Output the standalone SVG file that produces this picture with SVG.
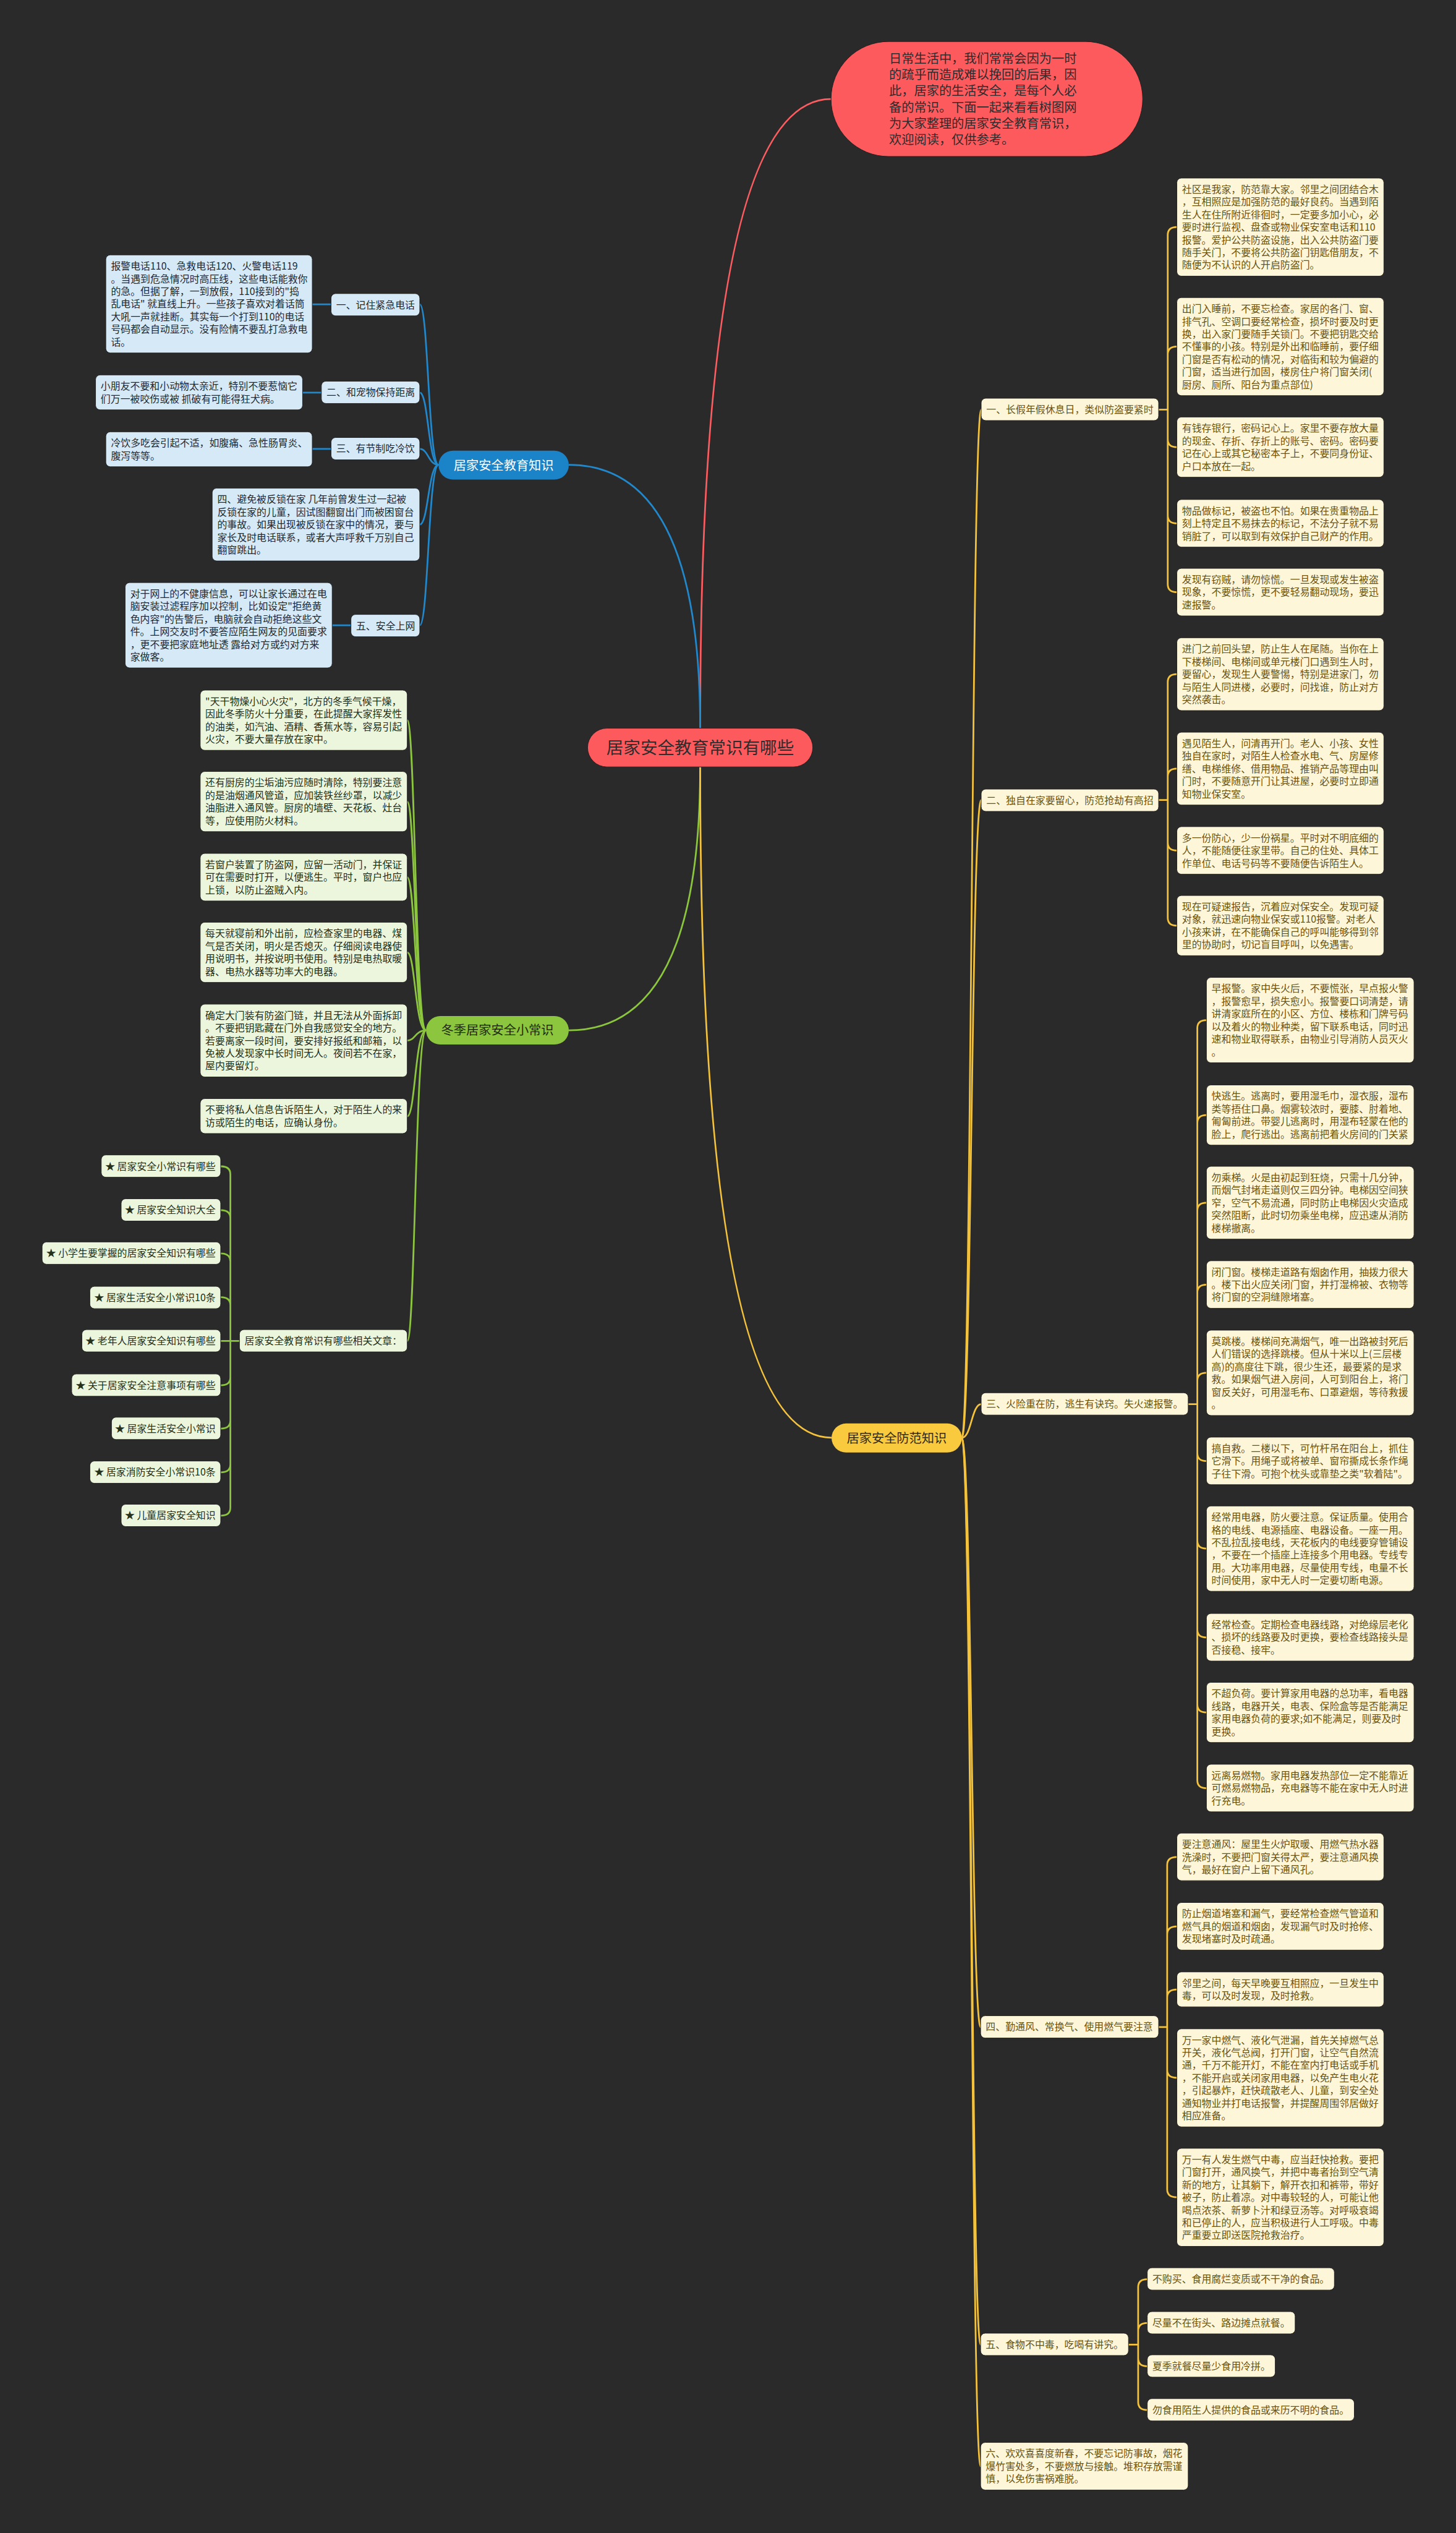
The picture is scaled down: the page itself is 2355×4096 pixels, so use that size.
<svg xmlns="http://www.w3.org/2000/svg" width="2355" height="4096" viewBox="0 0 2355 4096">
<style>
text{font-family:"Noto Sans CJK SC","Noto Sans",sans-serif;}
.bx{font-size:17.3px;}
.cy{fill:#fdf6d9;stroke:#1c1c1c;stroke-width:1}
.ty{fill:#6a5410}
.cb{fill:#d5e9f7;stroke:#1c1c1c;stroke-width:1}
.tb{fill:#1f2a33}
.cg{fill:#ebf6dc;stroke:#1c1c1c;stroke-width:1}
.tg{fill:#25301a}
.ly{fill:none;stroke:#f5c33b;stroke-width:3}
.lb{fill:none;stroke:#2288cc;stroke-width:3}
.lg{fill:none;stroke:#8cc63e;stroke-width:3}
.lr{fill:none;stroke:#fd5c60;stroke-width:3}
</style>
<rect width="2355" height="4096" fill="#2a2a2a"/>
<g transform="scale(0.92)">
<g id="connectors">
<path class="lr" d="M1231,1280 Q1231,174 1461,174"/>
<path class="lb" d="M1231,1280 Q1231,817 1000,817"/>
<path class="lg" d="M1231,1348 Q1231,1811 1000,1811"/>
<path class="ly" d="M1231,1348 Q1231,2527 1462,2527"/>
<!-- blue -->
<path class="lb" d="M771,817 C753,817 753,535 738,535"/>
<path class="lb" d="M771,817 C753,817 753,690 738,690"/>
<path class="lb" d="M771,817 C753,817 753,789 738,789"/>
<path class="lb" d="M771,817 C753,817 753,922 738,922"/>
<path class="lb" d="M771,817 C753,817 753,1099 738,1099"/>
<path class="lb" d="M549,535 H582 M532,690 H565 M549,789 H582 M584,1099 H617"/>
<!-- green -->
<path class="lg" d="M749,1811 C730,1811 730,1266 716,1266"/>
<path class="lg" d="M749,1811 C730,1811 730,1409 716,1409"/>
<path class="lg" d="M749,1811 C730,1811 730,1542 716,1542"/>
<path class="lg" d="M749,1811 C730,1811 730,1674 716,1674"/>
<path class="lg" d="M749,1811 C730,1811 730,1829 716,1829"/>
<path class="lg" d="M749,1811 C730,1811 730,1962 716,1962"/>
<path class="lg" d="M749,1811 C730,1811 730,2357 716,2357"/>
<path class="lg" d="M421,2357 H388 M405,2064 V2650 M405,2064 Q405,2050 388,2050 M405,2141 Q405,2127 388,2127 M405,2217 Q405,2203 388,2203 M405,2294 Q405,2280 388,2280 M405,2421 Q405,2435 388,2435 M405,2497 Q405,2511 388,2511 M405,2574 Q405,2588 388,2588 M405,2650 Q405,2664 388,2664"/>
<!-- yellow trunk -->
<path class="ly" d="M1691,2527 C1708,2527 1708,720 1725,720"/>
<path class="ly" d="M1691,2527 C1708,2527 1708,1406 1725,1406"/>
<path class="ly" d="M1691,2527 C1708,2527 1708,2468 1725,2468"/>
<path class="ly" d="M1691,2527 C1708,2527 1708,3563 1724,3563"/>
<path class="ly" d="M1691,2527 C1708,2527 1708,4121 1724,4121"/>
<path class="ly" d="M1691,2527 C1708,2527 1708,4335 1724,4335"/>
<!-- section brackets -->
<path class="ly" d="M2037,720 H2053 M2053,413 V1027 M2053,413 Q2053,399 2069,399 M2053,623 Q2053,609 2069,609 M2053,772 Q2053,786 2069,786 M2053,906 Q2053,920 2069,920 M2053,1027 Q2053,1041 2069,1041"/>
<path class="ly" d="M2037,1406 H2053 M2053,1199 V1613 M2053,1199 Q2053,1185 2069,1185 M2053,1365 Q2053,1351 2069,1351 M2053,1481 Q2053,1495 2069,1495 M2053,1613 Q2053,1627 2069,1627"/>
<path class="ly" d="M2089,2468 H2105 M2105,1807 V3129 M2105,1807 Q2105,1793 2121,1793 M2105,1974 Q2105,1960 2121,1960 M2105,2128 Q2105,2114 2121,2114 M2105,2272 Q2105,2258 2121,2258 M2105,2427 Q2105,2413 2121,2413 M2105,2554 Q2105,2568 2121,2568 M2105,2708 Q2105,2722 2121,2722 M2105,2864 Q2105,2878 2121,2878 M2105,2996 Q2105,3010 2121,3010 M2105,3129 Q2105,3143 2121,3143"/>
<path class="ly" d="M2037,3563 H2052 M2052,3278 V3848 M2052,3278 Q2052,3264 2069,3264 M2052,3400 Q2052,3386 2069,3386 M2052,3511 Q2052,3497 2069,3497 M2052,3638 Q2052,3652 2069,3652 M2052,3848 Q2052,3862 2069,3862"/>
<path class="ly" d="M1984,4121 H2001 M2001,4020 V4222 M2001,4020 Q2001,4006 2017,4006 M2001,4097 Q2001,4083 2017,4083 M2001,4145 Q2001,4159 2017,4159 M2001,4222 Q2001,4236 2017,4236"/>
</g>

<g id="root">
<rect x="1033" y="1280" width="396" height="68" rx="34" fill="#fd5a5e" stroke="#1c1c1c" stroke-width="1"/>
<text x="1231" y="1325" text-anchor="middle" font-size="30" fill="#2d2d2d">居家安全教育常识有哪些</text>
</g>
<g id="intro">
<rect x="1461" y="73" width="548" height="202" rx="101" fill="#fd5a5e" stroke="#1c1c1c" stroke-width="1"/>
<text x="1563" y="111" font-size="22" fill="#2d2d2d"><tspan x="1563">日常生活中，我们常常会因为一时</tspan><tspan x="1563" dy="28.4">的疏乎而造成难以挽回的后果，因</tspan><tspan x="1563" dy="28.4">此，居家的生活安全，是每个人必</tspan><tspan x="1563" dy="28.4">备的常识。下面一起来看看树图网</tspan><tspan x="1563" dy="28.4">为大家整理的居家安全教育常识，</tspan><tspan x="1563" dy="28.4">欢迎阅读，仅供参考。</tspan></text>
</g>

<!-- blue branch -->
<g id="blue-main">
<rect x="771" y="792" width="229" height="51" rx="25.5" fill="#1b83c7"/>
<text x="885.5" y="826" text-anchor="middle" font-size="22" fill="#ffffff">居家安全教育知识</text>
</g>
<g id="b1"><rect class="cb" x="582" y="516" width="156" height="39.2" rx="8"/><text class="bx tb" x="591" y="542">一、记住紧急电话</text></g>
<g id="b1d"><rect class="cb" x="186" y="448" width="363" height="172.4" rx="8"/><text class="bx tb" x="195" y="474"><tspan x="195">报警电话110、急救电话120、火警电话119</tspan><tspan x="195" dy="22.2">。当遇到危急情况时高压线，这些电话能救你</tspan><tspan x="195" dy="22.2">的急。但据了解，一到放假，110接到的"捣</tspan><tspan x="195" dy="22.2">乱电话" 就直线上升。一些孩子喜欢对着话筒</tspan><tspan x="195" dy="22.2">大吼一声就挂断。其实每一个打到110的电话</tspan><tspan x="195" dy="22.2">号码都会自动显示。没有险情不要乱打急救电</tspan><tspan x="195" dy="22.2">话。</tspan></text></g>
<g id="b2"><rect class="cb" x="565" y="670" width="173" height="39.2" rx="8"/><text class="bx tb" x="574" y="696">二、和宠物保持距离</text></g>
<g id="b2d"><rect class="cb" x="168" y="659" width="364" height="61.4" rx="8"/><text class="bx tb" x="177" y="685"><tspan x="177">小朋友不要和小动物太亲近，特别不要惹恼它</tspan><tspan x="177" dy="22.2">们万一被咬伤或被 抓破有可能得狂犬病。</tspan></text></g>
<g id="b3"><rect class="cb" x="582" y="769" width="156" height="39.2" rx="8"/><text class="bx tb" x="591" y="795">三、有节制吃冷饮</text></g>
<g id="b3d"><rect class="cb" x="186" y="759" width="363" height="61.4" rx="8"/><text class="bx tb" x="195" y="785"><tspan x="195">冷饮多吃会引起不适，如腹痛、急性肠胃炎、</tspan><tspan x="195" dy="22.2">腹泻等等。</tspan></text></g>
<g id="b4"><rect class="cb" x="373" y="858" width="365" height="128" rx="8"/><text class="bx tb" x="382" y="884"><tspan x="382">四、避免被反锁在家 几年前曾发生过一起被</tspan><tspan x="382" dy="22.2">反锁在家的儿童，因试图翻窗出门而被困窗台</tspan><tspan x="382" dy="22.2">的事故。如果出现被反锁在家中的情况，要与</tspan><tspan x="382" dy="22.2">家长及时电话联系，或者大声呼救千万别自己</tspan><tspan x="382" dy="22.2">翻窗跳出。</tspan></text></g>
<g id="b5"><rect class="cb" x="617" y="1080" width="121" height="39.2" rx="8"/><text class="bx tb" x="626" y="1106">五、安全上网</text></g>
<g id="b5d"><rect class="cb" x="220" y="1024" width="364" height="150" rx="8"/><text class="bx tb" x="229" y="1050"><tspan x="229">对于网上的不健康信息，可以让家长通过在电</tspan><tspan x="229" dy="22.2">脑安装过滤程序加以控制，比如设定"拒绝黄</tspan><tspan x="229" dy="22.2">色内容"的告警后，电脑就会自动拒绝这些文</tspan><tspan x="229" dy="22.2">件。上网交友时不要答应陌生网友的见面要求</tspan><tspan x="229" dy="22.2">，更不要把家庭地址透 露给对方或约对方来</tspan><tspan x="229" dy="22.2">家做客。</tspan></text></g>

<!-- green branch -->
<g id="green-main">
<rect x="749" y="1786" width="251" height="50" rx="25" fill="#8cc63e"/>
<text x="874.5" y="1819" text-anchor="middle" font-size="22" fill="#1f2a10">冬季居家安全小常识</text>
</g>
<g id="g1"><rect class="cg" x="352" y="1213" width="364" height="105.8" rx="8"/><text class="bx tg" x="361" y="1239"><tspan x="361">"天干物燥小心火灾"，北方的冬季气候干燥，</tspan><tspan x="361" dy="22.2">因此冬季防火十分重要，在此提醒大家挥发性</tspan><tspan x="361" dy="22.2">的油类，如汽油、酒精、香蕉水等，容易引起</tspan><tspan x="361" dy="22.2">火灾，不要大量存放在家中。</tspan></text></g>
<g id="g2"><rect class="cg" x="352" y="1356" width="364" height="105.8" rx="8"/><text class="bx tg" x="361" y="1382"><tspan x="361">还有厨房的尘垢油污应随时清除，特别要注意</tspan><tspan x="361" dy="22.2">的是油烟通风管道，应加装铁丝纱罩，以减少</tspan><tspan x="361" dy="22.2">油脂进入通风管。厨房的墙壁、天花板、灶台</tspan><tspan x="361" dy="22.2">等，应使用防火材料。</tspan></text></g>
<g id="g3"><rect class="cg" x="352" y="1500" width="364" height="83.6" rx="8"/><text class="bx tg" x="361" y="1526"><tspan x="361">若窗户装置了防盗网，应留一活动门，并保证</tspan><tspan x="361" dy="22.2">可在需要时打开，以便逃生。平时，窗户也应</tspan><tspan x="361" dy="22.2">上锁，以防止盗贼入内。</tspan></text></g>
<g id="g4"><rect class="cg" x="352" y="1621" width="364" height="105.8" rx="8"/><text class="bx tg" x="361" y="1647"><tspan x="361">每天就寝前和外出前，应检查家里的电器、煤</tspan><tspan x="361" dy="22.2">气是否关闭，明火是否熄灭。仔细阅读电器使</tspan><tspan x="361" dy="22.2">用说明书，并按说明书使用。特别是电热取暖</tspan><tspan x="361" dy="22.2">器、电热水器等功率大的电器。</tspan></text></g>
<g id="g5"><rect class="cg" x="352" y="1765" width="364" height="128" rx="8"/><text class="bx tg" x="361" y="1791"><tspan x="361">确定大门装有防盗门链，并且无法从外面拆卸</tspan><tspan x="361" dy="22.2">。不要把钥匙藏在门外自我感觉安全的地方。</tspan><tspan x="361" dy="22.2">若要离家一段时间，要安排好报纸和邮箱，以</tspan><tspan x="361" dy="22.2">免被人发现家中长时间无人。夜间若不在家，</tspan><tspan x="361" dy="22.2">屋内要留灯。</tspan></text></g>
<g id="g6"><rect class="cg" x="352" y="1931" width="364" height="61.4" rx="8"/><text class="bx tg" x="361" y="1957"><tspan x="361">不要将私人信息告诉陌生人，对于陌生人的来</tspan><tspan x="361" dy="22.2">访或陌生的电话，应确认身份。</tspan></text></g>
<g id="g7"><rect class="cg" x="421" y="2337" width="295" height="39.2" rx="8"/><text class="bx tg" x="430" y="2363">居家安全教育常识有哪些相关文章：</text></g>
<g id="r1"><rect class="cg" x="178" y="2030" width="210" height="39.2" rx="8"/><text class="bx tg" x="379" y="2056" text-anchor="end">★ 居家安全小常识有哪些</text></g>
<g id="r2"><rect class="cg" x="213" y="2107" width="175" height="39.2" rx="8"/><text class="bx tg" x="379" y="2133" text-anchor="end">★ 居家安全知识大全</text></g>
<g id="r3"><rect class="cg" x="74" y="2183" width="314" height="39.2" rx="8"/><text class="bx tg" x="379" y="2209" text-anchor="end">★ 小学生要掌握的居家安全知识有哪些</text></g>
<g id="r4"><rect class="cg" x="158" y="2261" width="230" height="39.2" rx="8"/><text class="bx tg" x="379" y="2287" text-anchor="end">★ 居家生活安全小常识10条</text></g>
<g id="r5"><rect class="cg" x="144" y="2337" width="244" height="39.2" rx="8"/><text class="bx tg" x="379" y="2363" text-anchor="end">★ 老年人居家安全知识有哪些</text></g>
<g id="r6"><rect class="cg" x="126" y="2415" width="262" height="39.2" rx="8"/><text class="bx tg" x="379" y="2441" text-anchor="end">★ 关于居家安全注意事项有哪些</text></g>
<g id="r7"><rect class="cg" x="196" y="2491" width="192" height="39.2" rx="8"/><text class="bx tg" x="379" y="2517" text-anchor="end">★ 居家生活安全小常识</text></g>
<g id="r8"><rect class="cg" x="158" y="2568" width="230" height="39.2" rx="8"/><text class="bx tg" x="379" y="2594" text-anchor="end">★ 居家消防安全小常识10条</text></g>
<g id="r9"><rect class="cg" x="213" y="2644" width="175" height="39.2" rx="8"/><text class="bx tg" x="379" y="2670" text-anchor="end">★ 儿童居家安全知识</text></g>

<!-- yellow branch -->
<g id="yellow-main">
<rect x="1462" y="2502" width="229" height="51" rx="25.5" fill="#f9c93e"/>
<text x="1576.5" y="2536" text-anchor="middle" font-size="22" fill="#2d2a1a">居家安全防范知识</text>
</g>
<g id="s1"><rect class="cy" x="1725" y="700" width="312" height="39.2" rx="8"/><text class="bx ty" x="1734" y="726">一、长假年假休息日，类似防盗要紧时</text></g>
<g id="s1a"><rect class="cy" x="2069" y="313" width="364" height="172.4" rx="8"/><text class="bx ty" x="2078" y="339"><tspan x="2078">社区是我家，防范靠大家。邻里之间团结合木</tspan><tspan x="2078" dy="22.2">，互相照应是加强防范的最好良药。当遇到陌</tspan><tspan x="2078" dy="22.2">生人在住所附近徘徊时，一定要多加小心，必</tspan><tspan x="2078" dy="22.2">要时进行监视、盘查或物业保安室电话和110</tspan><tspan x="2078" dy="22.2">报警。爱护公共防盗设施，出入公共防盗门要</tspan><tspan x="2078" dy="22.2">随手关门，不要将公共防盗门钥匙借朋友，不</tspan><tspan x="2078" dy="22.2">随便为不认识的人开启防盗门。</tspan></text></g>
<g id="s1b"><rect class="cy" x="2069" y="523" width="364" height="172.4" rx="8"/><text class="bx ty" x="2078" y="549"><tspan x="2078">出门入睡前，不要忘检查。家居的各门、窗、</tspan><tspan x="2078" dy="22.2">排气孔、空调口要经常检查，损坏时要及时更</tspan><tspan x="2078" dy="22.2">换，出入家门要随手关锁门。不要把钥匙交给</tspan><tspan x="2078" dy="22.2">不懂事的小孩。特别是外出和临睡前，要仔细</tspan><tspan x="2078" dy="22.2">门窗是否有松动的情况，对临街和较为偏避的</tspan><tspan x="2078" dy="22.2">门窗，适当进行加固，楼房住户将门窗关闭(</tspan><tspan x="2078" dy="22.2">厨房、厕所、阳台为重点部位)</tspan></text></g>
<g id="s1c"><rect class="cy" x="2069" y="733" width="364" height="105.8" rx="8"/><text class="bx ty" x="2078" y="759"><tspan x="2078">有钱存银行，密码记心上。家里不要存放大量</tspan><tspan x="2078" dy="22.2">的现金、存折、存折上的账号、密码。密码要</tspan><tspan x="2078" dy="22.2">记在心上或其它秘密本子上，不要同身份证、</tspan><tspan x="2078" dy="22.2">户口本放在一起。</tspan></text></g>
<g id="s1d"><rect class="cy" x="2069" y="878" width="364" height="83.6" rx="8"/><text class="bx ty" x="2078" y="904"><tspan x="2078">物品做标记，被盗也不怕。如果在贵重物品上</tspan><tspan x="2078" dy="22.2">刻上特定且不易抹去的标记，不法分子就不易</tspan><tspan x="2078" dy="22.2">销脏了，可以取到有效保护自己财产的作用。</tspan></text></g>
<g id="s1e"><rect class="cy" x="2069" y="999" width="364" height="83.6" rx="8"/><text class="bx ty" x="2078" y="1025"><tspan x="2078">发现有窃贼，请勿惊慌。一旦发现或发生被盗</tspan><tspan x="2078" dy="22.2">现象，不要惊慌，更不要轻易翻动现场，要迅</tspan><tspan x="2078" dy="22.2">速报警。</tspan></text></g>

<g id="s2"><rect class="cy" x="1725" y="1387" width="312" height="39.2" rx="8"/><text class="bx ty" x="1734" y="1413">二、独自在家要留心，防范抢劫有高招</text></g>
<g id="s2a"><rect class="cy" x="2069" y="1121" width="364" height="128" rx="8"/><text class="bx ty" x="2078" y="1147"><tspan x="2078">进门之前回头望，防止生人在尾随。当你在上</tspan><tspan x="2078" dy="22.2">下楼梯间、电梯间或单元楼门口遇到生人时，</tspan><tspan x="2078" dy="22.2">要留心，发现生人要警惕，特别是进家门，勿</tspan><tspan x="2078" dy="22.2">与陌生人同进楼，必要时，问找谁，防止对方</tspan><tspan x="2078" dy="22.2">突然袭击。</tspan></text></g>
<g id="s2b"><rect class="cy" x="2069" y="1287" width="364" height="128" rx="8"/><text class="bx ty" x="2078" y="1313"><tspan x="2078">遇见陌生人，问清再开门。老人、小孩、女性</tspan><tspan x="2078" dy="22.2">独自在家时，对陌生人检查水电、气、房屋修</tspan><tspan x="2078" dy="22.2">缮、电梯维修、借用物品、推销产品等理由叫</tspan><tspan x="2078" dy="22.2">门时，不要随意开门让其进屋，必要时立即通</tspan><tspan x="2078" dy="22.2">知物业保安室。</tspan></text></g>
<g id="s2c"><rect class="cy" x="2069" y="1453" width="364" height="83.6" rx="8"/><text class="bx ty" x="2078" y="1479"><tspan x="2078">多一份防心，少一份祸星。平时对不明底细的</tspan><tspan x="2078" dy="22.2">人，不能随便往家里带。自己的住处、具体工</tspan><tspan x="2078" dy="22.2">作单位、电话号码等不要随便告诉陌生人。</tspan></text></g>
<g id="s2d"><rect class="cy" x="2069" y="1574" width="364" height="105.8" rx="8"/><text class="bx ty" x="2078" y="1600"><tspan x="2078">现在可疑速报告，沉着应对保安全。发现可疑</tspan><tspan x="2078" dy="22.2">对象，就迅速向物业保安或110报警。对老人</tspan><tspan x="2078" dy="22.2">小孩来讲，在不能确保自己的呼叫能够得到邻</tspan><tspan x="2078" dy="22.2">里的协助时，切记盲目呼叫，以免遇害。</tspan></text></g>

<g id="s3"><rect class="cy" x="1725" y="2448" width="364" height="39.2" rx="8"/><text class="bx ty" x="1734" y="2474">三、火险重在防，逃生有诀窍。失火速报警。</text></g>
<g id="s3a"><rect class="cy" x="2121" y="1718" width="365" height="150" rx="8"/><text class="bx ty" x="2130" y="1744"><tspan x="2130">早报警。家中失火后，不要慌张，早点报火警</tspan><tspan x="2130" dy="22.2">，报警愈早，损失愈小。报警要口词清楚，请</tspan><tspan x="2130" dy="22.2">讲清家庭所在的小区、方位、楼栋和门牌号码</tspan><tspan x="2130" dy="22.2">以及着火的物业种类，留下联系电话，同时迅</tspan><tspan x="2130" dy="22.2">速和物业取得联系，由物业引导消防人员灭火</tspan><tspan x="2130" dy="22.2">。</tspan></text></g>
<g id="s3b"><rect class="cy" x="2121" y="1907" width="365" height="105.8" rx="8"/><text class="bx ty" x="2130" y="1933"><tspan x="2130">快逃生。逃离时，要用湿毛巾，湿衣服，湿布</tspan><tspan x="2130" dy="22.2">类等捂住口鼻。烟雾较浓时，要膝、肘着地、</tspan><tspan x="2130" dy="22.2">匍匐前进。带婴儿逃离时，用湿布轻蒙在他的</tspan><tspan x="2130" dy="22.2">脸上，爬行逃出。逃离前把着火房间的门关紧</tspan></text></g>
<g id="s3c"><rect class="cy" x="2121" y="2050" width="365" height="128" rx="8"/><text class="bx ty" x="2130" y="2076"><tspan x="2130">勿乘梯。火是由初起到狂烧，只需十几分钟，</tspan><tspan x="2130" dy="22.2">而烟气封堵走道则仅三四分钟。电梯因空间狭</tspan><tspan x="2130" dy="22.2">窄，空气不易流通，同时防止电梯因火灾造成</tspan><tspan x="2130" dy="22.2">突然阻断，此时切勿乘坐电梯，应迅速从消防</tspan><tspan x="2130" dy="22.2">楼梯撤离。</tspan></text></g>
<g id="s3d"><rect class="cy" x="2121" y="2216" width="365" height="83.6" rx="8"/><text class="bx ty" x="2130" y="2242"><tspan x="2130">闭门窗。楼梯走道路有烟囱作用，抽拨力很大</tspan><tspan x="2130" dy="22.2">。楼下出火应关闭门窗，并打湿棉被、衣物等</tspan><tspan x="2130" dy="22.2">将门窗的空洞缝隙堵塞。</tspan></text></g>
<g id="s3e"><rect class="cy" x="2121" y="2338" width="365" height="150" rx="8"/><text class="bx ty" x="2130" y="2364"><tspan x="2130">莫跳楼。楼梯间充满烟气，唯一出路被封死后</tspan><tspan x="2130" dy="22.2">人们错误的选择跳楼。但从十米以上(三层楼</tspan><tspan x="2130" dy="22.2">高)的高度往下跳，很少生还，最要紧的是求</tspan><tspan x="2130" dy="22.2">救。如果烟气进入房间，人可到阳台上，将门</tspan><tspan x="2130" dy="22.2">窗反关好，可用湿毛布、口罩避烟，等待救援</tspan><tspan x="2130" dy="22.2">。</tspan></text></g>
<g id="s3f"><rect class="cy" x="2121" y="2526" width="365" height="83.6" rx="8"/><text class="bx ty" x="2130" y="2552"><tspan x="2130">搞自救。二楼以下，可竹杆吊在阳台上，抓住</tspan><tspan x="2130" dy="22.2">它滑下。用绳子或将被单、窗帘撕成长条作绳</tspan><tspan x="2130" dy="22.2">子往下滑。可抱个枕头或靠垫之类"软着陆"。</tspan></text></g>
<g id="s3g"><rect class="cy" x="2121" y="2647" width="365" height="150" rx="8"/><text class="bx ty" x="2130" y="2673"><tspan x="2130">经常用电器，防火要注意。保证质量。使用合</tspan><tspan x="2130" dy="22.2">格的电线、电源插座、电器设备。一座一用。</tspan><tspan x="2130" dy="22.2">不乱拉乱接电线，天花板内的电线要穿管铺设</tspan><tspan x="2130" dy="22.2">，不要在一个插座上连接多个用电器。专线专</tspan><tspan x="2130" dy="22.2">用。大功率用电器，尽量使用专线，电量不长</tspan><tspan x="2130" dy="22.2">时间使用，家中无人时一定要切断电源。</tspan></text></g>
<g id="s3h"><rect class="cy" x="2121" y="2836" width="365" height="83.6" rx="8"/><text class="bx ty" x="2130" y="2862"><tspan x="2130">经常检查。定期检查电器线路，对绝缘层老化</tspan><tspan x="2130" dy="22.2">、损坏的线路要及时更换，要检查线路接头是</tspan><tspan x="2130" dy="22.2">否接稳、接牢。</tspan></text></g>
<g id="s3i"><rect class="cy" x="2121" y="2957" width="365" height="105.8" rx="8"/><text class="bx ty" x="2130" y="2983"><tspan x="2130">不超负荷。要计算家用电器的总功率，看电器</tspan><tspan x="2130" dy="22.2">线路，电器开关，电表、保险盒等是否能满足</tspan><tspan x="2130" dy="22.2">家用电器负荷的要求;如不能满足，则要及时</tspan><tspan x="2130" dy="22.2">更换。</tspan></text></g>
<g id="s3j"><rect class="cy" x="2121" y="3101" width="365" height="83.6" rx="8"/><text class="bx ty" x="2130" y="3127"><tspan x="2130">远离易燃物。家用电器发热部位一定不能靠近</tspan><tspan x="2130" dy="22.2">可燃易燃物品，充电器等不能在家中无人时进</tspan><tspan x="2130" dy="22.2">行充电。</tspan></text></g>

<g id="s4"><rect class="cy" x="1724" y="3543" width="313" height="39.2" rx="8"/><text class="bx ty" x="1733" y="3569">四、勤通风、常换气、使用燃气要注意</text></g>
<g id="s4a"><rect class="cy" x="2069" y="3222" width="364" height="83.6" rx="8"/><text class="bx ty" x="2078" y="3248"><tspan x="2078">要注意通风：屋里生火炉取暖、用燃气热水器</tspan><tspan x="2078" dy="22.2">洗澡时，不要把门窗关得太严，要注意通风换</tspan><tspan x="2078" dy="22.2">气，最好在窗户上留下通风孔。</tspan></text></g>
<g id="s4b"><rect class="cy" x="2069" y="3344" width="364" height="83.6" rx="8"/><text class="bx ty" x="2078" y="3370"><tspan x="2078">防止烟道堵塞和漏气，要经常检查燃气管道和</tspan><tspan x="2078" dy="22.2">燃气具的烟道和烟囱，发现漏气时及时抢修、</tspan><tspan x="2078" dy="22.2">发现堵塞时及时疏通。</tspan></text></g>
<g id="s4c"><rect class="cy" x="2069" y="3466" width="364" height="61.4" rx="8"/><text class="bx ty" x="2078" y="3492"><tspan x="2078">邻里之间，每天早晚要互相照应，一旦发生中</tspan><tspan x="2078" dy="22.2">毒，可以及时发现，及时抢救。</tspan></text></g>
<g id="s4d"><rect class="cy" x="2069" y="3566" width="364" height="172.4" rx="8"/><text class="bx ty" x="2078" y="3592"><tspan x="2078">万一家中燃气、液化气泄漏，首先关掉燃气总</tspan><tspan x="2078" dy="22.2">开关，液化气总阀，打开门窗，让空气自然流</tspan><tspan x="2078" dy="22.2">通，千万不能开灯，不能在室内打电话或手机</tspan><tspan x="2078" dy="22.2">，不能开启或关闭家用电器，以免产生电火花</tspan><tspan x="2078" dy="22.2">，引起暴炸，赶快疏散老人、儿童，到安全处</tspan><tspan x="2078" dy="22.2">通知物业并打电话报警，并提醒周围邻居做好</tspan><tspan x="2078" dy="22.2">相应准备。</tspan></text></g>
<g id="s4e"><rect class="cy" x="2069" y="3776" width="364" height="172.4" rx="8"/><text class="bx ty" x="2078" y="3802"><tspan x="2078">万一有人发生燃气中毒，应当赶快抢救。要把</tspan><tspan x="2078" dy="22.2">门窗打开，通风换气，并把中毒者抬到空气清</tspan><tspan x="2078" dy="22.2">新的地方，让其躺下，解开衣扣和裤带，带好</tspan><tspan x="2078" dy="22.2">被子，防止着凉。对中毒较轻的人，可能让他</tspan><tspan x="2078" dy="22.2">喝点浓茶、新萝卜汁和绿豆汤等。对呼吸衰竭</tspan><tspan x="2078" dy="22.2">和已停止的人，应当积极进行人工呼吸。中毒</tspan><tspan x="2078" dy="22.2">严重要立即送医院抢救治疗。</tspan></text></g>

<g id="s5"><rect class="cy" x="1724" y="4101" width="260" height="39.2" rx="8"/><text class="bx ty" x="1733" y="4127">五、食物不中毒，吃喝有讲究。</text></g>
<g id="s5a"><rect class="cy" x="2017" y="3986" width="329" height="39.2" rx="8"/><text class="bx ty" x="2026" y="4012">不购买、食用腐烂变质或不干净的食品。</text></g>
<g id="s5b"><rect class="cy" x="2017" y="4063" width="260" height="39.2" rx="8"/><text class="bx ty" x="2026" y="4089">尽量不在街头、路边摊点就餐。</text></g>
<g id="s5c"><rect class="cy" x="2017" y="4139" width="225" height="39.2" rx="8"/><text class="bx ty" x="2026" y="4165">夏季就餐尽量少食用冷拼。</text></g>
<g id="s5d"><rect class="cy" x="2017" y="4216" width="364" height="39.2" rx="8"/><text class="bx ty" x="2026" y="4242">勿食用陌生人提供的食品或来历不明的食品。</text></g>

<g id="s6"><rect class="cy" x="1724" y="4293" width="365" height="83.6" rx="8"/><text class="bx ty" x="1733" y="4319"><tspan x="1733">六、欢欢喜喜度新春，不要忘记防事故，烟花</tspan><tspan x="1733" dy="22.2">爆竹害处多，不要燃放与接触。堆积存放需谨</tspan><tspan x="1733" dy="22.2">慎，以免伤害祸难脱。</tspan></text></g>
</g>
</svg>
